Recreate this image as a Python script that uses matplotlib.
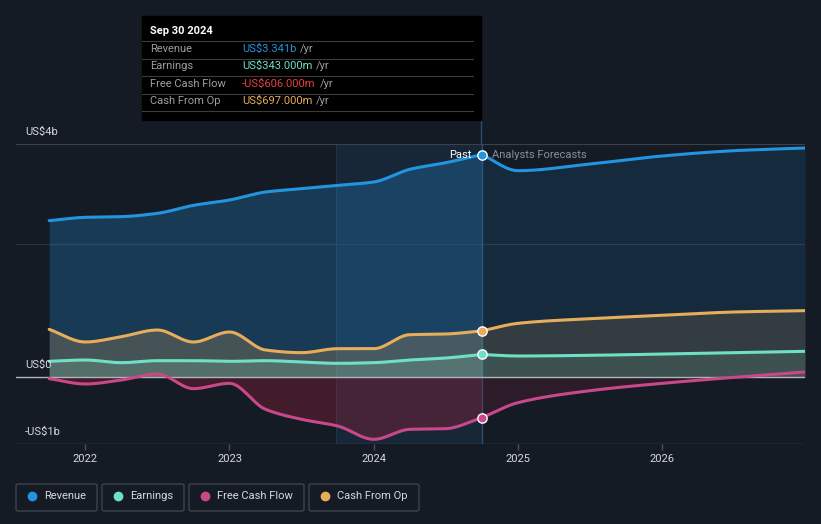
import numpy as np
import matplotlib.pyplot as plt
from matplotlib.patches import Rectangle, FancyBboxPatch

plt.rcParams['font.family'] = ['Roboto', 'DejaVu Sans']

# quarterly history (fractional years), values in US$ billions
past_t = [2021.75, 2022.0, 2022.25, 2022.5, 2022.75, 2023.0, 2023.25,
          2023.5, 2023.75, 2024.0, 2024.25, 2024.5, 2024.75]
revenue_past = [2.35, 2.40, 2.41, 2.46, 2.58, 2.66, 2.78, 2.83, 2.88, 2.93, 3.12, 3.22, 3.341]
earnings_past = [0.24, 0.26, 0.22, 0.25, 0.25, 0.24, 0.25, 0.23, 0.21, 0.22, 0.26, 0.29, 0.343]
fcf_past = [-0.02, -0.10, -0.04, 0.05, -0.17, -0.09, -0.48, -0.63, -0.73, -0.93, -0.78, -0.77, -0.606]
cfo_past = [0.72, 0.53, 0.61, 0.71, 0.53, 0.68, 0.41, 0.37, 0.43, 0.43, 0.64, 0.65, 0.697]

# analyst forecasts
fc_t = [2024.75, 2025.0, 2025.5, 2026.0, 2026.5, 2026.99]
revenue_fc = [3.341, 3.10, 3.20, 3.32, 3.40, 3.44]
earnings_fc = [0.343, 0.32, 0.33, 0.35, 0.37, 0.39]
fcf_fc = [-0.606, -0.38, -0.20, -0.09, 0.00, 0.08]
cfo_fc = [0.697, 0.81, 0.88, 0.93, 0.98, 1.00]

years = [2022, 2023, 2024, 2025, 2026]
series_names = ['Revenue', 'Earnings', 'Free Cash Flow', 'Cash From Op']
colors = ['#2394df', '#6fe0c6', '#c8488a', '#e8ad5b']
tooltip_values = ['US$3.341b', 'US$343.000m', '-US$606.000m', 'US$697.000m']
tooltip_colors = ['#2394df', '#6fe0c6', '#e8413f', '#e8ad5b']

bg = '#151b25'


def smooth(x, y, n=200):
    # monotone cubic (Fritsch-Carlson) for drawing the curve
    x = np.asarray(x, float)
    y = np.asarray(y, float)
    h = np.diff(x)
    d = np.diff(y) / h
    m = np.zeros_like(y)
    m[0], m[-1] = d[0], d[-1]
    for i in range(1, len(y) - 1):
        if d[i - 1] * d[i] > 0:
            w1 = 2 * h[i] + h[i - 1]
            w2 = h[i] + 2 * h[i - 1]
            m[i] = (w1 + w2) / (w1 / d[i - 1] + w2 / d[i])
    xs = np.linspace(x[0], x[-1], n)
    idx = np.clip(np.searchsorted(x, xs) - 1, 0, len(h) - 1)
    t = (xs - x[idx]) / h[idx]
    h00 = 2 * t**3 - 3 * t**2 + 1
    h10 = t**3 - 2 * t**2 + t
    h01 = -2 * t**3 + 3 * t**2
    h11 = t**3 - t**2
    ys = h00 * y[idx] + h10 * h[idx] * m[idx] + h01 * y[idx + 1] + h11 * h[idx] * m[idx + 1]
    return xs, ys


fig = plt.figure(figsize=(8.21, 5.24), dpi=100, facecolor=bg)
W, H = 821, 524
ax = fig.add_axes([16 / W, (H - 444) / H, (805 - 16) / W, 300 / H])
ax.set_facecolor(bg)
ax.set_xlim(2021.52, 2026.99)
ax.set_ylim(-1.0, 3.5)
for s in ax.spines.values():
    s.set_visible(False)

# highlighted last year of history
ax.axvspan(2023.74, 2024.75, color='#2a8fd8', alpha=0.11, lw=0, zorder=0)
ax.axvline(2023.74, color='#1f3952', lw=0.6, zorder=0.5)

# grid
ax.axhline(3.5, color='#3a414c', lw=0.8, zorder=0.6)
ax.axhline(2.0, color='#2c3440', lw=0.8, zorder=0.6)
ax.axhline(-1.0, color='#454b55', lw=1.0, zorder=0.6)

past_data = [revenue_past, earnings_past, fcf_past, cfo_past]
fc_data = [revenue_fc, earnings_fc, fcf_fc, cfo_fc]
fill_alpha_past = [0.26, 0.22, 0.30, 0.22]
fill_alpha_fc = [0.13, 0.14, 0.15, 0.14]
fill_colors = ['#2394df', '#6fe0c6', '#b0203a', '#e8ad5b']
draw_order = [0, 3, 1, 2]

for k in draw_order:
    xp, yp = smooth(past_t, past_data[k])
    xf, yf = smooth(fc_t, fc_data[k])
    ax.fill_between(xp, yp, 0, color=fill_colors[k], alpha=fill_alpha_past[k], lw=0, zorder=1 + k * 0.1)
    ax.fill_between(xf, yf, 0, color=fill_colors[k], alpha=fill_alpha_fc[k], lw=0, zorder=1 + k * 0.1)

ax.axhline(0, color='#b0b4ba', lw=1.0, zorder=2)

for k in draw_order:
    xp, yp = smooth(past_t, past_data[k])
    xf, yf = smooth(fc_t, fc_data[k])
    ax.plot(xp, yp, color=colors[k], lw=2.2, zorder=3, solid_capstyle='round')
    ax.plot(xf, yf, color=colors[k], lw=2.2, zorder=3, solid_capstyle='round')
    ax.scatter([past_t[-1]], [past_data[k][-1]], s=45, color=colors[k],
               edgecolor='white', linewidth=1.0, zorder=5)

ax.axvline(2024.75, color='#2d4d6a', lw=1.0, zorder=0.7)

# x ticks
ax.set_xticks(years)
ax.set_xticklabels([str(y) for y in years])
ax.tick_params(axis='x', colors='#4a505a', length=4, width=1, labelcolor='#d6d8dc', labelsize=8, pad=3)
ax.set_yticks([])

# y labels
for val, txt, dy in [(3.5, 'US$4b', 12), (0, 'US$0', 12), (-1.0, '-US$1b', 12)]:
    y_pix = 377.3 - val * 66.7
    fig.text(25 / W, (H - y_pix + dy) / H, txt, color='#d6d8dc', fontsize=8, va='center')

# Past / Analysts Forecasts labels
ax.text(2024.68, 3.341, 'Past', color='white', fontsize=8, ha='right', va='center', zorder=6)
ax.text(2024.82, 3.341, 'Analysts Forecasts', color='#8a8f96', fontsize=8, ha='left', va='center', zorder=6)

# tooltip
fig.patches.append(Rectangle((142 / W, (H - 120) / H), (481 - 142) / W, 104 / H,
                             transform=fig.transFigure, color='black', zorder=10))
fig.add_artist(plt.Line2D([481 / W, 481 / W], [(H - 144) / H, (H - 120) / H],
                          transform=fig.transFigure, color='#2d4d6a', lw=1.0))
fig.text(150 / W, (H - 31) / H, 'Sep 30 2024', color='white', fontsize=8, fontweight='bold',
         va='center', zorder=11)
for yy in [41.3, 58.7, 76.3, 93.7, 111.3]:
    fig.add_artist(plt.Line2D([142 / W, 473 / W], [(H - yy) / H, (H - yy) / H],
                              transform=fig.transFigure, color='#3c3c3c', lw=0.8, zorder=11))
renderer = fig.canvas.get_renderer()
for i, yy in enumerate([48.5, 66, 84, 101]):
    fig.text(150 / W, (H - yy) / H, series_names[i], color='#9a9ea5', fontsize=8, va='center', zorder=11)
    t = fig.text(242 / W, (H - yy) / H, tooltip_values[i], color=tooltip_colors[i], fontsize=8,
                 va='center', zorder=11)
    bb = t.get_window_extent(renderer)
    fig.text((bb.x1 + 4) / W, (H - yy) / H, '/yr', color='#9a9ea5', fontsize=8, va='center', zorder=11)

# legend boxes
legend_boxes = [(16, 97), (102, 184), (189, 304), (309, 419)]
for i, (x0, x1) in enumerate(legend_boxes):
    fig.patches.append(FancyBboxPatch((x0 / W, (H - 511) / H), (x1 - x0) / W, 27 / H,
                                      boxstyle='round,pad=0,rounding_size=0.003',
                                      transform=fig.transFigure, facecolor=bg,
                                      edgecolor='#3d434d', lw=1.0))
    fig.add_artist(plt.Line2D([(x0 + 16) / W], [(H - 496) / H], marker='o', markersize=6,
                              color=colors[i], transform=fig.transFigure))
    fig.text((x0 + 28) / W, (H - 496) / H, series_names[i], color='#d6d8dc', fontsize=8, va='center')

fig.savefig('out.png', dpi=100, facecolor=bg)
